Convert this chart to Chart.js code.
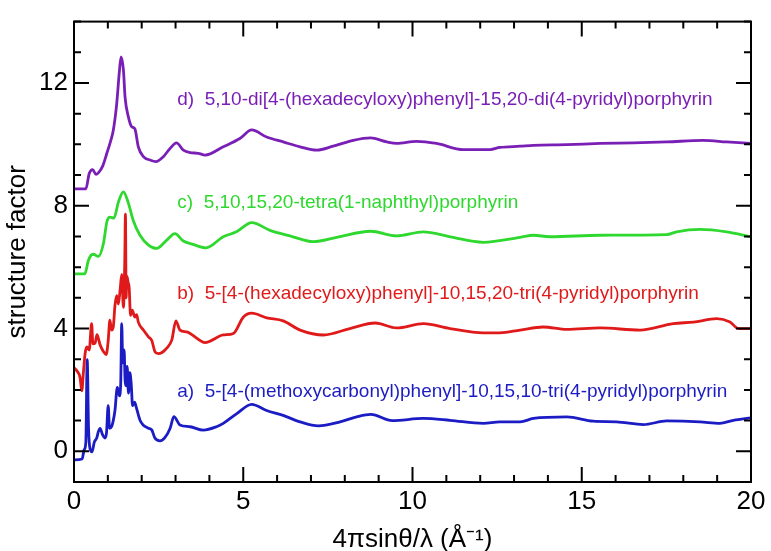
<!DOCTYPE html>
<html>
<head>
<meta charset="utf-8">
<script src="https://cdn.jsdelivr.net/npm/chart.js@4.4.1/dist/chart.umd.min.js"></script>
<style>
  body { margin: 0; background: #fff; }
  #box { width: 771px; height: 551px; }
</style>
</head>
<body>
<div id="box"><canvas id="graficoEstrutura"></canvas></div>
<script>
/* dados */
const xD = [0, 0.35, 0.45, 0.55, 0.65, 0.72, 0.85, 0.97, 1.08, 1.16, 1.26, 1.34, 1.39, 1.46, 1.51, 1.61, 1.7, 1.8, 1.9, 2.05, 2.25, 2.42, 2.64, 2.84, 3.03, 3.23, 3.43, 3.67, 3.87, 4.41, 4.9, 5.25, 5.69, 6.18, 6.68, 7.17, 7.66, 8.25, 8.76, 9.24, 9.53, 10.12, 10.71, 11.5, 12.29, 12.58, 13.18, 13.57, 14.56, 15.54, 16.52, 17.51, 18.59, 19.28, 20];
const yD = [8.55, 8.55, 9.05, 9.18, 9.02, 9.07, 9.3, 9.71, 10.1, 10.45, 11.3, 12.37, 12.85, 12.43, 11.52, 10.88, 10.58, 10.5, 9.92, 9.6, 9.49, 9.44, 9.6, 9.87, 10.05, 9.81, 9.73, 9.71, 9.65, 9.92, 10.19, 10.47, 10.24, 10.08, 9.92, 9.81, 9.94, 10.13, 10.21, 10.08, 10.03, 10.1, 10.03, 9.83, 9.83, 9.9, 9.94, 9.97, 9.99, 10.03, 10.05, 10.08, 10.13, 10.08, 10.03];

const xC = [0, 0.32, 0.42, 0.5, 0.57, 0.72, 0.87, 0.97, 1.06, 1.18, 1.31, 1.46, 1.6, 1.75, 1.95, 2.2, 2.44, 2.74, 2.98, 3.23, 3.52, 3.9, 4.41, 4.8, 5.25, 5.79, 6.38, 7.07, 7.76, 8.76, 9.53, 10.32, 11.11, 12.09, 13.18, 13.57, 14.06, 15.54, 17.51, 17.8, 18.49, 19.28, 20];
const yC = [5.78, 5.78, 6.2, 6.38, 6.42, 6.35, 6.77, 7.47, 7.63, 7.6, 8.11, 8.45, 8.11, 7.52, 7.04, 6.72, 6.61, 6.88, 7.09, 6.85, 6.74, 6.63, 6.99, 7.15, 7.45, 7.2, 7.02, 6.83, 6.97, 7.17, 7.02, 7.15, 6.99, 6.81, 6.97, 7.04, 6.99, 7.04, 7.06, 7.15, 7.23, 7.15, 6.99];

const xB = [0, 0.1, 0.18, 0.23, 0.28, 0.33, 0.38, 0.45, 0.52, 0.56, 0.62, 0.68, 0.72, 0.77, 0.87, 0.95, 1.01, 1.06, 1.11, 1.16, 1.21, 1.26, 1.31, 1.36, 1.41, 1.46, 1.5, 1.52, 1.54, 1.56, 1.6, 1.63, 1.67, 1.72, 1.8, 1.85, 1.9, 2.05, 2.2, 2.3, 2.39, 2.49, 2.6, 2.74, 2.89, 3.01, 3.13, 3.33, 3.43, 3.67, 3.87, 4.41, 4.71, 5.0, 5.25, 5.69, 6.18, 6.68, 7.37, 8.15, 8.9, 9.53, 10.32, 11.11, 12.09, 12.58, 13.18, 13.86, 14.56, 15.54, 16.72, 17.7, 18.3, 18.99, 19.38, 19.63, 20];
const yB = [2.72, 2.6, 2.4, 1.97, 2.6, 3.2, 3.4, 3.3, 4.16, 3.5, 3.52, 3.8, 3.68, 3.47, 3.25, 3.15, 3.6, 4.27, 3.95, 4.05, 4.75, 5.07, 4.8, 5.23, 5.76, 4.69, 6.2, 7.73, 5.0, 5.71, 5.5, 5.33, 4.43, 4.6, 4.37, 4.45, 4.21, 3.95, 3.73, 3.6, 3.25, 3.18, 3.22, 3.36, 3.63, 4.25, 3.95, 3.89, 3.84, 3.65, 3.54, 3.79, 3.84, 4.37, 4.5, 4.35, 4.25, 3.95, 3.79, 4.0, 4.18, 4.02, 4.16, 4.0, 3.86, 3.86, 3.95, 4.05, 3.97, 4.02, 3.95, 4.16, 4.21, 4.32, 4.21, 4.0, 4.0];

const xA = [0, 0.24, 0.3, 0.35, 0.39, 0.43, 0.47, 0.53, 0.6, 0.67, 0.72, 0.77, 0.84, 0.91, 0.96, 1.01, 1.05, 1.11, 1.16, 1.21, 1.28, 1.34, 1.38, 1.41, 1.44, 1.48, 1.51, 1.54, 1.57, 1.61, 1.65, 1.69, 1.73, 1.79, 1.85, 1.95, 2.05, 2.2, 2.3, 2.39, 2.54, 2.69, 2.84, 2.95, 3.13, 3.43, 3.82, 4.21, 4.41, 4.81, 5.25, 5.69, 6.18, 6.68, 7.22, 7.86, 8.35, 8.77, 9.4, 10.32, 11.11, 12.09, 12.58, 13.18, 13.57, 14.56, 15.34, 16.03, 16.82, 17.51, 18.49, 19.08, 19.48, 20];
const yA = [-0.28, -0.25, 0.05, 0.3, 2.99, 0.75, 0.1, -0.02, 0.3, 0.43, 0.64, 0.75, 0.55, 0.43, 0.6, 1.49, 0.75, 0.8, 1.0, 1.33, 2.08, 1.81, 2.2, 4.16, 2.88, 3.3, 2.3, 2.13, 2.77, 1.9, 2.56, 2.2, 1.49, 1.6, 1.39, 1.01, 0.85, 0.75, 0.69, 0.43, 0.34, 0.45, 0.75, 1.13, 0.86, 0.8, 0.69, 0.8, 0.91, 1.23, 1.53, 1.33, 1.17, 0.96, 0.83, 0.96, 1.12, 1.2, 1.0, 1.07, 1.01, 0.91, 0.96, 0.96, 1.07, 1.12, 0.98, 0.96, 0.87, 0.99, 0.96, 0.91, 1.01, 1.09];

const rotulos = [
  'd)  5,10-di[4-(hexadecyloxy)phenyl]-15,20-di(4-pyridyl)porphyrin',
  'c)  5,10,15,20-tetra(1-naphthyl)porphyrin',
  'b)  5-[4-(hexadecyloxy)phenyl]-10,15,20-tri(4-pyridyl)porphyrin',
  'a)  5-[4-(methoxycarbonyl)phenyl]-10,15,10-tri(4-pyridyl)porphyrin'
];
const rotuloY = [11.45, 8.1, 5.12, 1.95];
const rotuloX = 3.05;
const cores = ['#7a1fb6', '#2ed82e', '#e01a1a', '#1c1cc4'];

const pontos = (xs, ys) => xs.map((x, i) => ({ x: x, y: ys[i] }));
const FONTE = '"Liberation Sans", Arial, sans-serif';

/* moldura, marcas para dentro e rótulos das curvas */
const molduraPlugin = {
  id: 'moldura',
  afterDatasetsDraw(chart) {
    const ctx = chart.ctx;
    const a = chart.chartArea;
    const sx = chart.scales.x, sy = chart.scales.y;
    ctx.save();
    ctx.strokeStyle = '#000';
    ctx.lineWidth = 2;
    ctx.strokeRect(a.left, a.top, a.right - a.left, a.bottom - a.top);
    ctx.beginPath();
    sx.ticks.forEach(t => {
      const px = sx.getPixelForValue(t.value);
      const len = t.value % 5 === 0 ? 15 : 7;
      ctx.moveTo(px, a.bottom); ctx.lineTo(px, a.bottom - len);
      ctx.moveTo(px, a.top); ctx.lineTo(px, a.top + len);
    });
    sy.ticks.forEach(t => {
      const py = sy.getPixelForValue(t.value);
      const len = t.value % 4 === 0 ? 15 : 7;
      ctx.moveTo(a.left, py); ctx.lineTo(a.left + len, py);
      ctx.moveTo(a.right, py); ctx.lineTo(a.right - len, py);
    });
    ctx.stroke();

    ctx.font = '19px ' + FONTE;
    ctx.textBaseline = 'middle';
    ctx.textAlign = 'left';
    rotulos.forEach((txt, i) => {
      ctx.fillStyle = cores[i];
      ctx.fillText(txt, sx.getPixelForValue(rotuloX), sy.getPixelForValue(rotuloY[i]));
    });
    ctx.restore();
  }
};

const graficoEstrutura = document.getElementById('graficoEstrutura');

new Chart(graficoEstrutura, {
  type: 'line',
  data: {
    datasets: [
      { data: pontos(xD, yD), borderColor: cores[0] },
      { data: pontos(xC, yC), borderColor: cores[1] },
      { data: pontos(xB, yB), borderColor: cores[2] },
      { data: pontos(xA, yA), borderColor: cores[3] }
    ]
  },
  options: {
    responsive: true,
    maintainAspectRatio: false,
    devicePixelRatio: 1,
    animation: false,
    parsing: false,
    layout: { padding: { top: 13, right: 20, left: 0, bottom: 0 } },
    elements: {
      point: { radius: 0 },
      line: { borderWidth: 2.8, cubicInterpolationMode: 'monotone' }
    },
    scales: {
      x: {
        type: 'linear',
        min: 0,
        max: 20,
        grid: { display: false, drawTicks: false },
        border: { display: false },
        afterFit(scale) { scale.height = 69; },
        ticks: {
          stepSize: 1,
          autoSkip: false,
          maxRotation: 0,
          padding: 4,
          color: '#000',
          font: { family: FONTE, size: 26 },
          callback: v => (v % 5 === 0 ? v : '')
        },
        title: {
          display: true,
          text: '4πsinθ/λ (Å⁻¹)',
          color: '#000',
          padding: { top: 4, bottom: -4 },
          font: { family: FONTE, size: 26 }
        }
      },
      y: {
        min: -1,
        max: 14,
        grid: { display: false, drawTicks: false },
        border: { display: false },
        afterFit(scale) { scale.width = 74; },
        ticks: {
          stepSize: 1,
          autoSkip: false,
          padding: 6,
          color: '#000',
          font: { family: FONTE, size: 26 },
          callback: v => (v % 4 === 0 ? v : '')
        },
        title: {
          display: true,
          text: 'structure factor',
          color: '#000',
          padding: { top: 2, bottom: 2 },
          font: { family: FONTE, size: 26 }
        }
      }
    },
    plugins: {
      legend: { display: false },
      tooltip: { enabled: false }
    }
  },
  plugins: [molduraPlugin]
});
</script>
</body>
</html>
